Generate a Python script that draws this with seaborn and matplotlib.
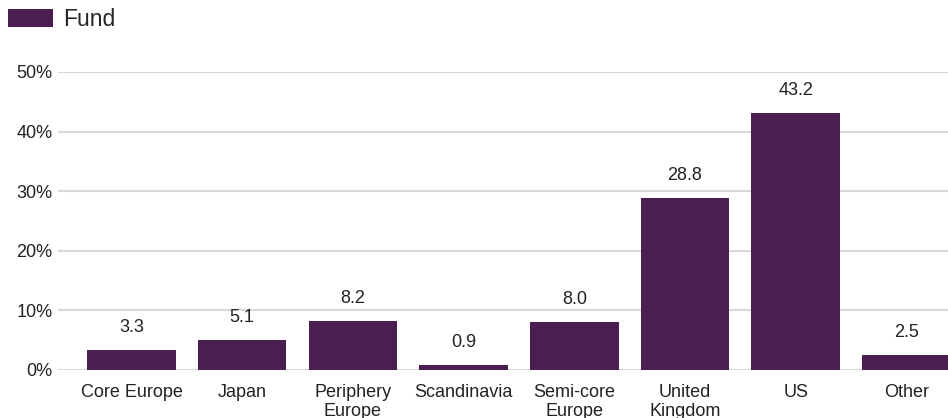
import matplotlib
matplotlib.use("Agg")
import matplotlib.pyplot as plt
import seaborn as sns
import pandas as pd
from matplotlib.patches import Patch

categories = ["Core Europe", "Japan", "Periphery\nEurope", "Scandinavia",
              "Semi-core\nEurope", "United\nKingdom", "US", "Other"]
fund_values = [3.3, 5.1, 8.2, 0.9, 8.0, 28.8, 43.2, 2.5]
y_ticks = [0, 10, 20, 30, 40, 50]
y_tick_labels = ["0%", "10%", "20%", "30%", "40%", "50%"]
series_name = "Fund"

sns.set_theme(style="white")
plt.rcParams["font.family"] = ["Liberation Sans", "DejaVu Sans"]

color = "#4B1E51"
df = pd.DataFrame({"region": categories, "value": fund_values})

fig = plt.figure(figsize=(9.48, 4.18), dpi=100)
ax = fig.add_axes([58 / 948, 48 / 418, 890 / 948, 298 / 418])
sns.barplot(data=df, x="region", y="value", color=color, saturation=1,
            width=0.8, ax=ax, zorder=3, linewidth=0)
ax.set_xlim(-0.664, 7.376)
ax.set_ylim(0, 50)
ax.set_yticks(y_ticks)
ax.set_yticklabels(y_tick_labels, fontsize=13, color="#222222")
ax.set_xlabel("")
ax.set_ylabel("")
for lbl in ax.get_xticklabels():
    lbl.set_fontsize(13)
    lbl.set_color("#222222")
    lbl.set_linespacing(1.15)
ax.tick_params(axis="both", length=0)
ax.tick_params(axis="x", pad=10)
ax.tick_params(axis="y", pad=4)
for s in ax.spines.values():
    s.set_visible(False)
ax.yaxis.grid(True, color="#d9d9d9", linewidth=1.5, zorder=0)
ax.set_axisbelow(True)
for c in ax.containers:
    ax.bar_label(c, labels=[f"{v:.1f}" for v in fund_values], padding=10,
                 fontsize=13, color="#222222")

fig.legend(handles=[Patch(facecolor=color, edgecolor="none", label=series_name)],
           loc="upper left", bbox_to_anchor=(0.0, 1.0), frameon=False,
           fontsize=16.5, handlelength=1.97, handleheight=0.83,
           handletextpad=0.44, borderaxespad=0.15, borderpad=0.2)

fig.savefig("out.png", dpi=100)
